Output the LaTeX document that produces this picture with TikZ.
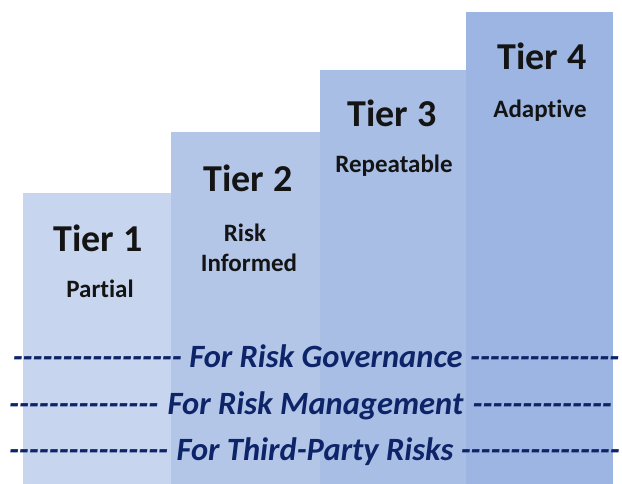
\documentclass[tikz,border=0pt]{standalone}
\usepackage{fontspec}
\newfontfamily\cf{Carlito}[Ligatures=NoCommon]
\usetikzlibrary{calc}
\definecolor{barA}{HTML}{C7D5EE}
\definecolor{barB}{HTML}{B3C6E8}
\definecolor{barC}{HTML}{A8BEE5}
\definecolor{barD}{HTML}{9DB5E2}
\definecolor{navy}{HTML}{0D2468}
\newcommand\dsh[1]{\foreach\k in {1,...,#1}{-\kern0pt}}
\tikzset{
  tiername/.style={inner sep=0pt, anchor=base, font=\cf\bfseries\fontsize{38}{40}\selectfont, text=black!92},
  tiersub/.style={inner sep=0pt, anchor=base, font=\cf\bfseries\fontsize{25}{30}\selectfont, text=black!92},
  scopetext/.style={inner sep=0pt, anchor=base, font=\cf\bfseries\itshape\fontsize{32.5}{34}\selectfont, text=navy},
  dashL/.style={scopetext, anchor=base east},
  dashR/.style={scopetext, anchor=base west}
}
\begin{document}
\begin{tikzpicture}[x=1pt,y=-1pt]
\useasboundingbox (0,0) rectangle (622,484);
% bars
\fill[barA] (23,193) rectangle (171,484);
\fill[barB] (171,132) rectangle (320,484);
\fill[barC] (320,70) rectangle (466,484);
\fill[barD] (466,12) rectangle (613,484);
% tier labels
\node[tiername] (t1) at (98,252) {Tier 1};
\node[tiersub] (s1) at (100,298) {Partial};
\node[tiername] (t2) at (248,192) {Tier 2};
\node[tiersub] (s2a) at (245,242) {Risk};
\node[tiersub] (s2b) at (249,272) {Informed};
\node[tiername] (t3) at (392,127) {Tier 3};
\node[tiersub] (s3) at (394,173) {Repeatable};
\node[tiername] (t4) at (542,70) {Tier 4};
\node[tiersub] (s4) at (540,118) {Adaptive};
% scope lines
\node[scopetext] (gov) at (326,367) {For Risk Governance};
\node[dashL] (govL) at ($(gov.base west)+(-7,0)$) {\dsh{17}};
\node[dashR] (govR) at ($(gov.base east)+(7,0)$) {\dsh{15}};
\node[scopetext] (mgt) at (315.5,414) {For Risk Management};
\node[dashL] (mgtL) at ($(mgt.base west)+(-9,0)$) {\dsh{15}};
\node[dashR] (mgtR) at ($(mgt.base east)+(9,0)$) {\dsh{14}};
\node[scopetext] (tpr) at (315,460) {For Third-Party Risks};
\node[dashL] (tprL) at ($(tpr.base west)+(-8,0)$) {\dsh{16}};
\node[dashR] (tprR) at ($(tpr.base east)+(7,0)$) {\dsh{16}};
\end{tikzpicture}
\end{document}
